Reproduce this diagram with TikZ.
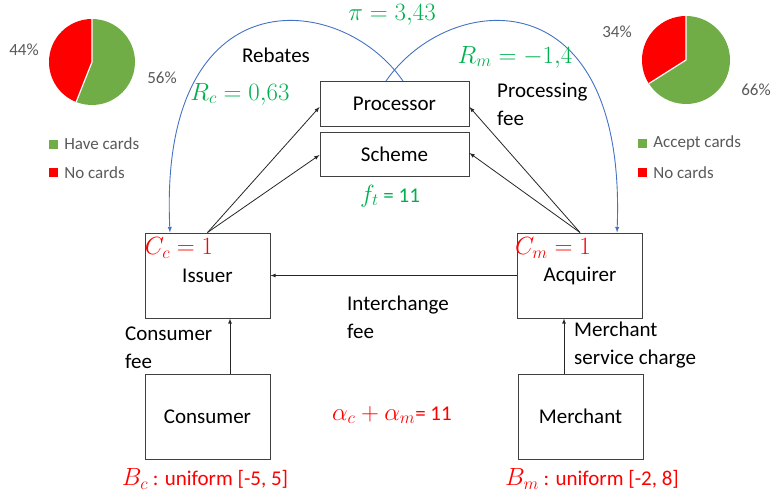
\documentclass[tikz,border=0pt]{standalone}
\usepackage{amsmath}
\usepackage{fontspec}
\setmainfont{Carlito}
\definecolor{mgreen}{HTML}{00B050}
\definecolor{piegreen}{HTML}{70AD47}
\definecolor{arcblue}{HTML}{4472C4}
\definecolor{legendgray}{HTML}{595959}
\newcommand{\mth}[1]{{\fontsize{23}{28}\selectfont$#1$}}

\begin{document}
\begin{tikzpicture}
    [
        x = 1pt, y = -1pt,
        boxed/.style     = {shape=rectangle, draw=black!75, line width=1pt, minimum width=125pt, minimum height=85pt, inner sep=0pt},
        flowbox/.style   = {boxed, minimum width=149pt, minimum height=45pt},
        flow/.style      = {draw=black!85, line width=0.8pt, -latex},
        rebate/.style    = {draw=arcblue, line width=0.9pt, -latex},
        every node/.style = {font=\fontsize{21}{28}\selectfont},
        greenlbl/.style  = {text=mgreen},
        redlbl/.style    = {text=red},
        twoline/.style   = {align=left, anchor=west, inner sep=0pt},
        chartlbl/.style  = {text=legendgray, font=\fontsize{17}{20}\selectfont},
        % legend squares
        swatch/.style    = {minimum size=9pt, inner sep=0pt},
    ]
    \useasboundingbox (0,0) rectangle (774,493);

    % boxes
    \node [flowbox] (proc)   at (394.5,104) {Processor};
    \node [flowbox, minimum height=44pt] (scheme) at (394.5,154) {Scheme};
    \node [boxed] (iss) at (207.5,275.5) {Issuer};
    \node [boxed] (acq) at (580,275.5) {Acquirer};
    \node [boxed] (con) at (207.5,416.5) {Consumer};
    \node [boxed] (mer) at (580.5,416.5) {Merchant};

    % fee flows
    \draw [flow] (iss.north) -- ([yshift=-3pt]proc.west);
    \draw [flow] (iss.north) -- ([yshift=-1pt]scheme.west);
    \draw [flow] (acq.north) -- ([yshift=-3pt]proc.east);
    \draw [flow] (acq.north) -- ([yshift=1pt]scheme.east);
    \draw [flow] (acq.west) -- (iss.east);
    \draw [flow] ([xshift=22.5pt]con.north) -- ([xshift=22.5pt]iss.south);
    \draw [flow] ([xshift=-16.5pt]mer.north) -- ([xshift=-16pt]acq.south);

    % rebates
    \draw [rebate] ([xshift=8.5pt]proc.north) .. controls +(-63,-91) and +(-12,-258) .. ([xshift=-37.5pt]iss.north);
    \draw [rebate] ([xshift=-8.5pt]proc.north) .. controls +(63,-91) and +(10,-258) .. ([xshift=37pt]acq.north);

    % labels
    \node [greenlbl] (pi) at (392,15) {\mth{\pi = 3{,}43}};
    \node (rebates) at (276,55) {Rebates};
    \node [greenlbl] (rc) at (240,94) {\mth{R_c = 0{,}63}};
    \node [greenlbl] (rm) at (515,57) {\mth{R_m = -1{,}4}};
    \node [twoline] (procfee) at (497,104) {Processing\\fee};
    \node [greenlbl] (ft) at (390,196) {\mth{f_t} =\ 11};
    \node [redlbl] (cc) at (179,248) {\mth{C_c = 1}};
    \node [redlbl] (cm) at (553,248) {\mth{C_m = 1}};
    \node [twoline] (ifee) at (347,317) {Interchange\\fee};
    \node [twoline] (cfee) at (125,348) {Consumer\\fee};
    \node [twoline] (msc) at (574,345) {Merchant\\service charge};
    \node [redlbl] (alpha) at (392,415) {\mth{\alpha_c + \alpha_m}= 11};
    \node [redlbl] (bc) at (205,479) {\mth{B_c} : uniform [-5, 5]};
    \node [redlbl] (bm) at (592,479) {\mth{B_m} : uniform [-2, 8]};

    % pie charts
    \begin{scope}[shift={(92,62)}, yscale=-1]
        \fill [piegreen] (0,0) -- (90:43) arc [start angle=90, end angle=-111.6, radius=43] -- cycle;
        \fill [red] (0,0) -- (90:43) arc [start angle=90, end angle=248.4, radius=43] -- cycle;
        \draw [white, line width=1.2pt] (90:43) -- (0,0) -- (-111.6:43);
    \end{scope}
    \begin{scope}[shift={(686,60)}, yscale=-1]
        \fill [piegreen] (0,0) -- (90:44) arc [start angle=90, end angle=-147.6, radius=44] -- cycle;
        \fill [red] (0,0) -- (90:44) arc [start angle=90, end angle=212.4, radius=44] -- cycle;
        \draw [white, line width=1.2pt] (90:44) -- (0,0) -- (-147.6:44);
    \end{scope}
    \node [chartlbl] (p44) at (24,50) {44\%};
    \node [chartlbl] (p56) at (162,78) {56\%};
    \node [chartlbl] (p34) at (617,32) {34\%};
    \node [chartlbl] (p66) at (756,90) {66\%};

    % legends
    \node [swatch, fill=piegreen] (lgc) at (53.5,144) {};
    \node [chartlbl, anchor=west, inner sep=0pt] at ([xshift=6pt]lgc.east) {Have cards};
    \node [swatch, fill=red] (lgn) at (53.5,172.5) {};
    \node [chartlbl, anchor=west, inner sep=0pt] at ([xshift=6pt]lgn.east) {No cards};
    \node [swatch, fill=piegreen] (rgc) at (642.5,143) {};
    \node [chartlbl, anchor=west, inner sep=0pt] at ([xshift=6pt]rgc.east) {Accept cards};
    \node [swatch, fill=red] (rgn) at (642.5,172.5) {};
    \node [chartlbl, anchor=west, inner sep=0pt] at ([xshift=6pt]rgn.east) {No cards};
\end{tikzpicture}
\end{document}
